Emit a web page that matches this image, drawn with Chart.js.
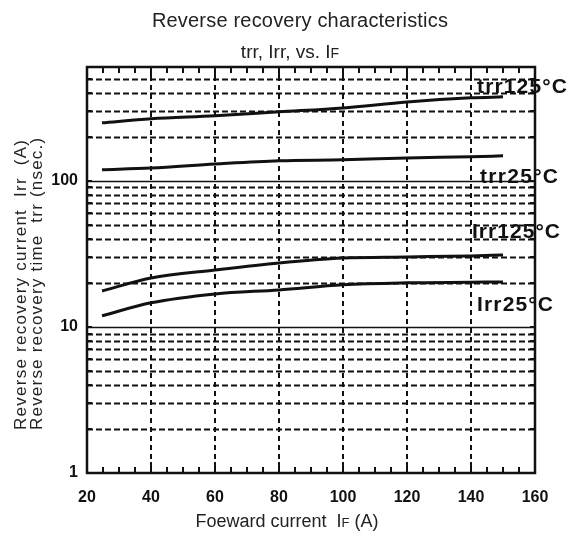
<!DOCTYPE html>
<html>
<head>
<meta charset="utf-8">
<title>Reverse recovery characteristics</title>
<script src="https://cdn.jsdelivr.net/npm/chart.js@4.4.0/dist/chart.umd.min.js"></script>
<style>
  html, body { margin: 0; padding: 0; background: #fff; }
  .wrap { width: 570px; height: 536px; position: relative; }
</style>
</head>
<body>
<div class="wrap"><canvas id="chart"></canvas></div>
<script>
/* ── Data ────────────────────────────────────────────────────── */
const IF_A    = [24.7, 40, 60, 80, 100, 120, 140, 150];
const TRR_125 = [249, 265, 278, 296, 315, 346, 369, 375];
const TRR_25  = [119, 122, 130, 137, 139, 143, 146, 148];
const IRR_125 = [17.6, 21.6, 24.5, 27.4, 29.6, 30.1, 30.6, 31.0];
const IRR_25  = [11.9, 14.6, 16.8, 17.9, 19.4, 20.0, 20.2, 20.3];

const X_TICKS  = [20, 40, 60, 80, 100, 120, 140, 160];
const X_GRID   = [40, 60, 80, 100, 120, 140];
const Y_GRID   = [2, 3, 4, 5, 6, 7, 8, 9, 10, 20, 30, 40, 50, 60, 70, 80, 90, 100, 200, 300, 400, 500];
const Y_LABELS = [1, 10, 100];

const CURVE_LABELS = [
  { text: 'trr125°C', x: 477, y: 87,  w: 90 },
  { text: 'trr25°C',  x: 480, y: 177, w: 78 },
  { text: 'Irr125°C', x: 472, y: 232, w: 88 },
  { text: 'Irr25°C',  x: 477, y: 305, w: 76 },
];

const INK = '#111';
const SANS = '"Liberation Sans", Arial, sans-serif';

/* ── helpers ─────────────────────────────────────────────────── */
function pts(ys) { return IF_A.map((x, i) => ({ x, y: ys[i] })); }

function hline(ctx, x0, x1, y) { ctx.beginPath(); ctx.moveTo(x0, y); ctx.lineTo(x1, y); ctx.stroke(); }
function vline(ctx, x, y0, y1) { ctx.beginPath(); ctx.moveTo(x, y0); ctx.lineTo(x, y1); ctx.stroke(); }

// draw a text stretched to a target width with letter spacing
function fitText(ctx, text, x, y, w) {
  ctx.letterSpacing = '0px';
  const nat = ctx.measureText(text).width;
  const sp = Math.max(0, (w - nat) / Math.max(1, text.length - 1));
  ctx.letterSpacing = sp.toFixed(2) + 'px';
  ctx.fillText(text, x, y);
  ctx.letterSpacing = '0px';
}

// runs of text with different sizes (for the small "F" of IF), centred on cx
function drawRuns(ctx, runs, cx, y) {
  const widths = runs.map(r => { ctx.font = r.font; return ctx.measureText(r.t).width; });
  let x = cx - widths.reduce((a, b) => a + b, 0) / 2;
  ctx.textAlign = 'left';
  runs.forEach((r, i) => { ctx.font = r.font; ctx.fillText(r.t, x, y); x += widths[i]; });
}

/* ── plugin: paper grid, frame and tick marks ────────────────── */
const paperGrid = {
  id: 'paperGrid',
  beforeDatasetsDraw(chart) {
    const { ctx, chartArea: a, scales: { x, y } } = chart;
    ctx.save();
    ctx.strokeStyle = INK;
    Y_GRID.forEach(v => {
      const py = Math.round(y.getPixelForValue(v)) + 0.5;
      const major = v === 10 || v === 100;
      ctx.lineWidth = major ? 1.5 : 2;
      ctx.setLineDash(major ? [] : [6, 3]);
      hline(ctx, a.left, a.right, py);
    });
    ctx.lineWidth = 2;
    ctx.setLineDash([5, 4]);
    X_GRID.forEach(v => vline(ctx, Math.round(x.getPixelForValue(v)), a.top, a.bottom));
    ctx.restore();
  },
  afterDatasetsDraw(chart) {
    const { ctx, chartArea: a, scales: { x, y } } = chart;
    ctx.save();
    ctx.strokeStyle = INK;
    ctx.setLineDash([]);
    // minor / major ticks along top and bottom, every 5 A
    ctx.lineWidth = 2;
    for (let v = 25; v < 160; v += 5) {
      const px = Math.round(x.getPixelForValue(v));
      const len = v % 20 === 0 ? 11 : 6;
      vline(ctx, px, a.bottom, a.bottom - len);
      vline(ctx, px, a.top, a.top + len);
    }
    // short ticks on left and right at every grid value
    Y_GRID.forEach(v => {
      const py = Math.round(y.getPixelForValue(v));
      hline(ctx, a.left, a.left + 5, py);
      hline(ctx, a.right - 5, a.right, py);
    });
    ctx.lineWidth = 2.5;
    ctx.strokeRect(a.left, a.top, a.right - a.left, a.bottom - a.top);
    ctx.restore();
  },
  afterDraw(chart) {
    const { ctx } = chart;
    ctx.save();
    ctx.fillStyle = '#222';
    ctx.textBaseline = 'alphabetic';

    // titles
    ctx.textAlign = 'center';
    ctx.font = `20px ${SANS}`;
    fitText(ctx, 'Reverse recovery characteristics', 300, 27, 296);
    drawRuns(ctx, [
      { t: 'trr, Irr, vs. I', font: `19px ${SANS}` },
      { t: 'F', font: `14px ${SANS}` },
    ], 290, 58);

    // x axis title
    drawRuns(ctx, [
      { t: 'Foeward current  I', font: `18px ${SANS}` },
      { t: 'F', font: `13px ${SANS}` },
      { t: ' (A)', font: `18px ${SANS}` },
    ], 287, 527);

    // y axis titles, rotated, starting from the bottom
    ctx.save();
    ctx.rotate(-Math.PI / 2);
    ctx.textAlign = 'left';
    ctx.font = `17px ${SANS}`;
    fitText(ctx, 'Reverse recovery current  Irr  (A)', -430, 26, 290);
    fitText(ctx, 'Reverse recovery time  trr (nsec.)', -430, 42, 292);
    ctx.restore();

    // curve labels
    ctx.fillStyle = INK;
    ctx.textAlign = 'left';
    ctx.textBaseline = 'middle';
    ctx.font = `bold 21px ${SANS}`;
    CURVE_LABELS.forEach(l => fitText(ctx, l.text, l.x, l.y, l.w));
    ctx.restore();
  },
};

/* ── chart ───────────────────────────────────────────────────── */
const line = (data) => ({
  data: pts(data),
  borderColor: INK,
  borderWidth: 3,
  pointRadius: 0,
  tension: 0.4,
  cubicInterpolationMode: 'monotone',
  fill: false,
});

new Chart(document.getElementById('chart'), {
  type: 'line',
  data: { datasets: [line(TRR_125), line(TRR_25), line(IRR_125), line(IRR_25)] },
  plugins: [paperGrid],
  options: {
    responsive: true,
    maintainAspectRatio: false,
    animation: false,
    devicePixelRatio: 1,
    layout: { padding: { top: 67, right: 35, left: 0, bottom: 0 } },
    plugins: { legend: { display: false }, title: { display: false }, tooltip: { enabled: false } },
    scales: {
      x: {
        type: 'linear', min: 20, max: 160,
        afterBuildTicks: s => { s.ticks = X_TICKS.map(value => ({ value })); },
        afterFit: s => { s.height = 63; },
        grid: { display: false, drawTicks: false },
        border: { display: false },
        ticks: { color: INK, padding: 15, autoSkip: false, maxRotation: 0,
                 font: { family: SANS, size: 16, weight: 'bold' } },
      },
      y: {
        type: 'logarithmic', min: 1, max: 600,
        afterBuildTicks: s => { s.ticks = [1].concat(Y_GRID, [600]).map(value => ({ value })); },
        afterFit: s => { s.width = 87; },
        grid: { display: false, drawTicks: false },
        border: { display: false },
        ticks: { color: INK, padding: 9, autoSkip: false,
                 callback: v => Y_LABELS.includes(v) ? String(v) : '',
                 font: { family: SANS, size: 16, weight: 'bold' } },
      },
    },
  },
});
</script>
</body>
</html>
